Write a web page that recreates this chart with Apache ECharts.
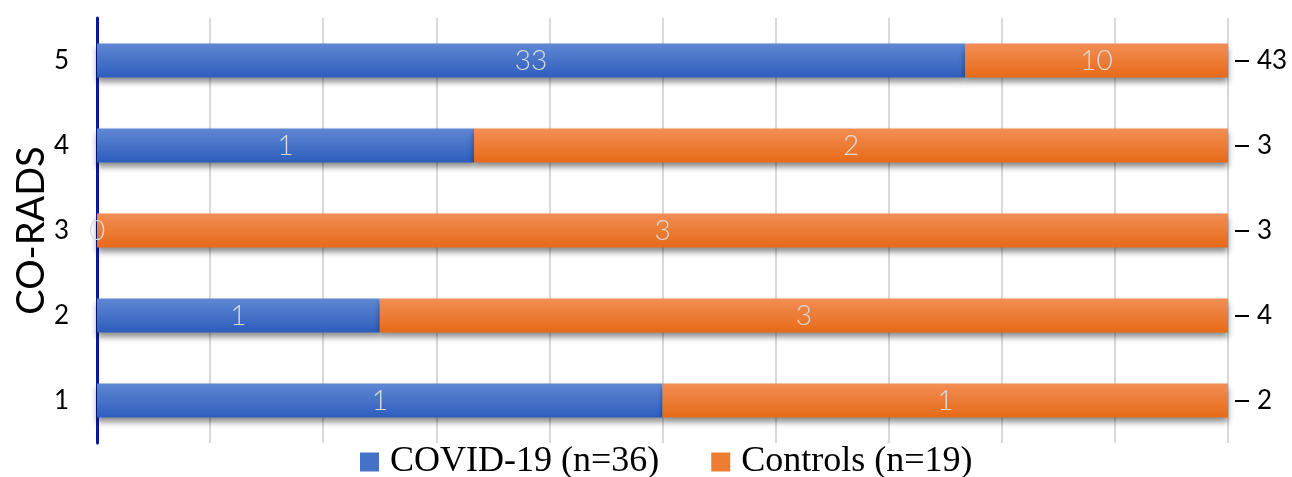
<!DOCTYPE html>
<html>
<head>
<meta charset="utf-8">
<script src="https://cdn.jsdelivr.net/npm/echarts@6/dist/echarts.min.js"></script>
<style>html,body{margin:0;padding:0;background:#fff}#c{width:1292px;height:477px}</style>
</head>
<body>
<div id="c"></div>
<script>
const categories = ['1', '2', '3', '4', '5'];
const covid = [1, 1, 0, 1, 33];
const controls = [1, 3, 3, 2, 10];
const totals = [2, 4, 3, 3, 43];
const seriesNames = ['COVID-19 (n=36)', 'Controls (n=19)'];

const pct = (arr) => arr.map((v, i) => v / (covid[i] + controls[i]) * 100);

function grad(top, bottom) {
  return new echarts.graphic.LinearGradient(0, 0, 0, 1, [
    { offset: 0, color: top }, { offset: 1, color: bottom }
  ]);
}
const blue = grad('#5f87d3', '#2d5ebd');
const orange = grad('#f38e55', '#e66a17');

const labelStyle = {
  show: true, position: 'inside', color: '#dcdcdc',
  fontFamily: 'Lato', fontWeight: 300, fontSize: 28
};
const itemShadow = { shadowColor: 'rgba(0,0,0,0.45)', shadowBlur: 6, shadowOffsetY: 4 };

const chart = echarts.init(document.getElementById('c'));
chart.setOption({
  animation: false,
  grid: { left: 97, right: 64, top: 18, bottom: 34, containLabel: false, outerBoundsMode: 'none' },
  legend: {
    bottom: -8, left: 355, icon: 'rect', itemWidth: 19, itemHeight: 19, itemGap: 52,
    textStyle: { fontFamily: 'Liberation Serif', fontSize: 36, color: '#000', padding: [0, 0, 0, 6] },
    data: [
      { name: seriesNames[0], itemStyle: { color: '#4472c4' } },
      { name: seriesNames[1], itemStyle: { color: '#ed7d31' } }
    ]
  },
  xAxis: {
    type: 'value', min: 0, max: 100, interval: 10,
    axisLabel: { show: false }, axisLine: { show: false }, axisTick: { show: false },
    splitLine: { show: true, lineStyle: { color: '#d9d9d9', width: 2 } }
  },
  yAxis: [
    {
      type: 'category', data: categories,
      name: 'CO-RADS', nameLocation: 'middle', nameGap: 46, nameRotate: 90, nameMoveOverlap: false,
      nameTextStyle: { fontFamily: 'Lato', fontSize: 38, color: '#000' },
      axisLine: { show: true, lineStyle: { color: '#0a1a96', width: 3 } },
      axisTick: { show: false },
      axisLabel: { fontFamily: 'Lato', fontSize: 26, color: '#000', margin: 28 }
    },
    {
      type: 'category', data: totals.map(String), position: 'right', offset: 7,
      axisLine: { show: false },
      axisTick: { show: true, alignWithLabel: true, length: 14, lineStyle: { color: '#000', width: 2 } },
      axisLabel: { fontFamily: 'Lato', fontSize: 26, color: '#000', margin: 22 }
    }
  ],
  series: [
    {
      name: seriesNames[0], type: 'bar', stack: 'a', barWidth: 34,
      data: pct(covid),
      itemStyle: Object.assign({ color: blue }, itemShadow),
      label: Object.assign({ formatter: p => String(covid[p.dataIndex]) }, labelStyle)
    },
    {
      name: seriesNames[1], type: 'bar', stack: 'a', barWidth: 34,
      data: pct(controls),
      itemStyle: Object.assign({ color: orange }, itemShadow),
      label: Object.assign({ formatter: p => String(controls[p.dataIndex]) }, labelStyle)
    }
  ]
});
</script>
</body>
</html>
